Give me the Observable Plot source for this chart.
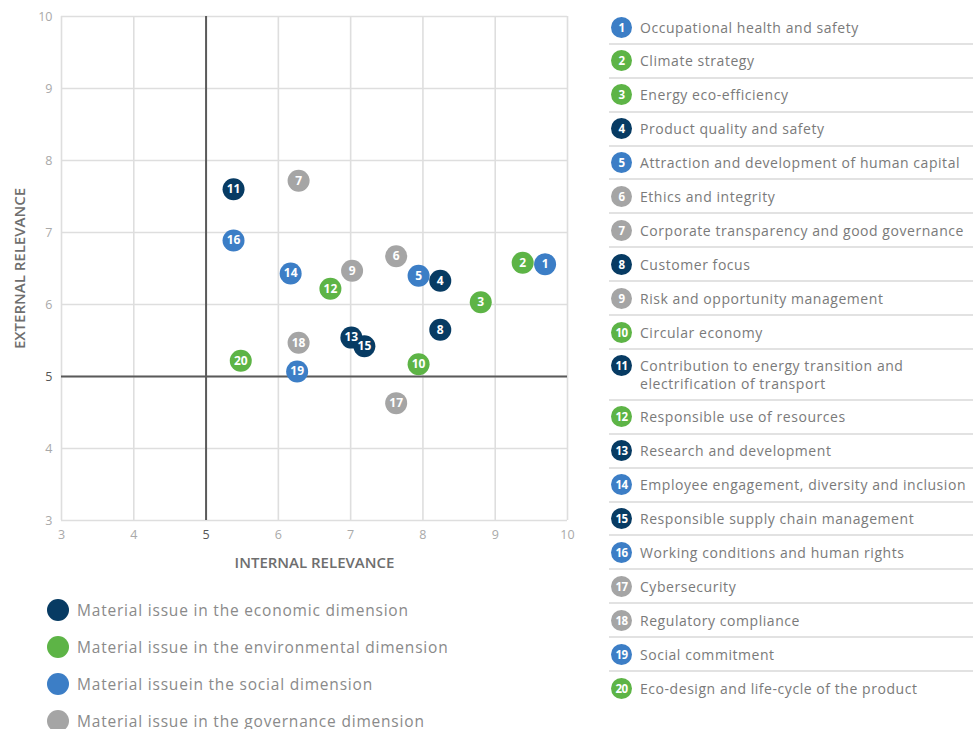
<!DOCTYPE html>
<html>
<head>
<meta charset="utf-8">
<script src="https://cdn.jsdelivr.net/npm/d3@7"></script>
<script src="https://cdn.jsdelivr.net/npm/@observablehq/plot@0.6"></script>
<style>
  html, body { margin: 0; padding: 0; background: #fff; }
  #root { position: relative; width: 973px; height: 729px; overflow: hidden; font-family: "Open Sans", sans-serif; }
  #chart { position: absolute; left: 0; top: 0; }
  #list { position: absolute; left: 609px; top: 11px; width: 364px; }
  .row { position: relative; box-sizing: border-box; height: 33.9px; border-bottom: 2px solid #e2e2e2; }
  .row.two { height: 51px; }
  .row:last-child { border-bottom: none; }
  .badge { position: absolute; left: 2px; top: 5.5px; width: 21px; height: 21px; border-radius: 50%; color: #fff; font-weight: 700; font-size: 11.5px; line-height: 21px; text-align: center; letter-spacing: -0.5px; }
  .name { position: absolute; left: 31px; font-size: 14px; line-height: 17px; color: #7a7a7a; letter-spacing: 0.55px; white-space: nowrap; }
  #dimlegend { position: absolute; left: 47px; top: 591.5px; }
  .drow { display: flex; align-items: center; height: 37px; }
  .dot { width: 22px; height: 22px; border-radius: 50%; margin-right: 8px; }
  .dname { font-size: 15.5px; color: #8a8a8a; letter-spacing: 0.8px; white-space: nowrap; }
</style>
</head>
<body>
<div id="root">
  <div id="chart"></div>
  <div id="list"></div>
  <div id="dimlegend"></div>
</div>
<script>
const ids = [1,2,3,4,5,6,7,8,9,10,11,12,13,14,15,16,17,18,19,20];
const names = [
  "Occupational health and safety",
  "Climate strategy",
  "Energy eco-efficiency",
  "Product quality and safety",
  "Attraction and development of human capital",
  "Ethics and integrity",
  "Corporate transparency and good governance",
  "Customer focus",
  "Risk and opportunity management",
  "Circular economy",
  "Contribution to energy transition and\nelectrification of transport",
  "Responsible use of resources",
  "Research and development",
  "Employee engagement, diversity and inclusion",
  "Responsible supply chain management",
  "Working conditions and human rights",
  "Cybersecurity",
  "Regulatory compliance",
  "Social commitment",
  "Eco-design and life-cycle of the product"
];
const internal = [9.69, 9.38, 8.80, 8.24, 7.94, 7.63, 6.28, 8.24, 7.02, 7.94, 5.38, 6.72, 7.01, 6.17, 7.19, 5.38, 7.63, 6.28, 6.26, 5.48];
const external = [6.56, 6.58, 6.03, 6.33, 6.40, 6.67, 7.72, 5.65, 6.47, 5.17, 7.60, 6.22, 5.54, 6.43, 5.42, 6.89, 4.63, 5.47, 5.07, 5.22];
const dims = ["social","environmental","environmental","economic","social","governance","governance","economic","governance","environmental","economic","environmental","economic","social","economic","social","governance","governance","social","environmental"];
const dimKeys = ["economic","environmental","social","governance"];
const dimLabels = [
  "Material issue in the economic dimension",
  "Material issue in the environmental dimension",
  "Material issuein the social dimension",
  "Material issue in the governance dimension"
];
const dimColors = ["#073b63", "#5db446", "#3c7ec6", "#a5a5a5"];
const axisTicks = [3,4,5,6,7,8,9,10];
const thresholds = [5];
const xLabel = "INTERNAL RELEVANCE";
const yLabel = "EXTERNAL RELEVANCE";

const data = ids.map((id, i) => ({id, name: names[i], x: internal[i], y: external[i], dim: dims[i]}));
const colorOf = d3.scaleOrdinal(dimKeys, dimColors);

const chart = Plot.plot({
  width: 580,
  height: 580,
  marginLeft: 61,
  marginRight: 13,
  marginTop: 16,
  marginBottom: 60,
  style: {fontFamily: "Open Sans, sans-serif", background: "#fff"},
  x: {domain: [3, 10], label: null},
  y: {domain: [3, 10], label: null},
  color: {domain: dimKeys, range: dimColors},
  marks: [
    Plot.gridX(axisTicks, {stroke: "#dedede", strokeOpacity: 1, strokeWidth: 1.6}),
    Plot.gridY(axisTicks, {stroke: "#dedede", strokeOpacity: 1, strokeWidth: 1.6}),
    Plot.ruleX(thresholds, {stroke: "#5a5a5a", strokeWidth: 2}),
    Plot.ruleY(thresholds, {stroke: "#5a5a5a", strokeWidth: 2}),
    Plot.axisX(axisTicks, {tickSize: 0, tickPadding: 10, fontSize: 12.5, tickFormat: d3.format("d"), fill: d => d === 5 ? "#555" : "#a9a9a9", fontWeight: d => d === 5 ? 700 : 400, label: null}),
    Plot.axisY(axisTicks, {tickSize: 0, tickPadding: 9, fontSize: 12.5, tickFormat: d3.format("d"), fill: d => d === 5 ? "#555" : "#a9a9a9", fontWeight: d => d === 5 ? 700 : 400, label: null}),
    Plot.text([xLabel], {text: d => d, frameAnchor: "bottom", textAnchor: "middle", dy: 47, fontSize: 15, fill: "#6e6e6e", fontWeight: 600, letterSpacing: "1.5px"}),
    Plot.text([yLabel], {text: d => d, frameAnchor: "left", textAnchor: "middle", dx: -41, rotate: -90, fontSize: 15, fill: "#6e6e6e", fontWeight: 600, letterSpacing: "1.5px"}),
    Plot.dot(data, {x: "x", y: "y", r: 11, fill: "dim"}),
    Plot.text(data, {x: "x", y: "y", text: d => String(d.id), fill: "#fff", fontWeight: 700, fontSize: 12, letterSpacing: "-0.5px"})
  ]
});
document.getElementById("chart").appendChild(chart);

const list = document.getElementById("list");
data.forEach(d => {
  const row = document.createElement("div");
  const lines = d.name.split("\n");
  row.className = lines.length > 1 ? "row two" : "row";
  const b = document.createElement("div");
  b.className = "badge";
  b.style.background = colorOf(d.dim);
  b.textContent = d.id;
  row.appendChild(b);
  lines.forEach((ln, j) => {
    const n = document.createElement("div");
    n.className = "name";
    n.style.top = (7.5 + 17.5 * j) + "px";
    n.textContent = ln;
    row.appendChild(n);
  });
  list.appendChild(row);
});

const dl = document.getElementById("dimlegend");
dimKeys.forEach((k, i) => {
  const r = document.createElement("div");
  r.className = "drow";
  const c = document.createElement("div");
  c.className = "dot";
  c.style.background = dimColors[i];
  const t = document.createElement("div");
  t.className = "dname";
  t.textContent = dimLabels[i];
  r.appendChild(c);
  r.appendChild(t);
  dl.appendChild(r);
});
</script>
</body>
</html>
